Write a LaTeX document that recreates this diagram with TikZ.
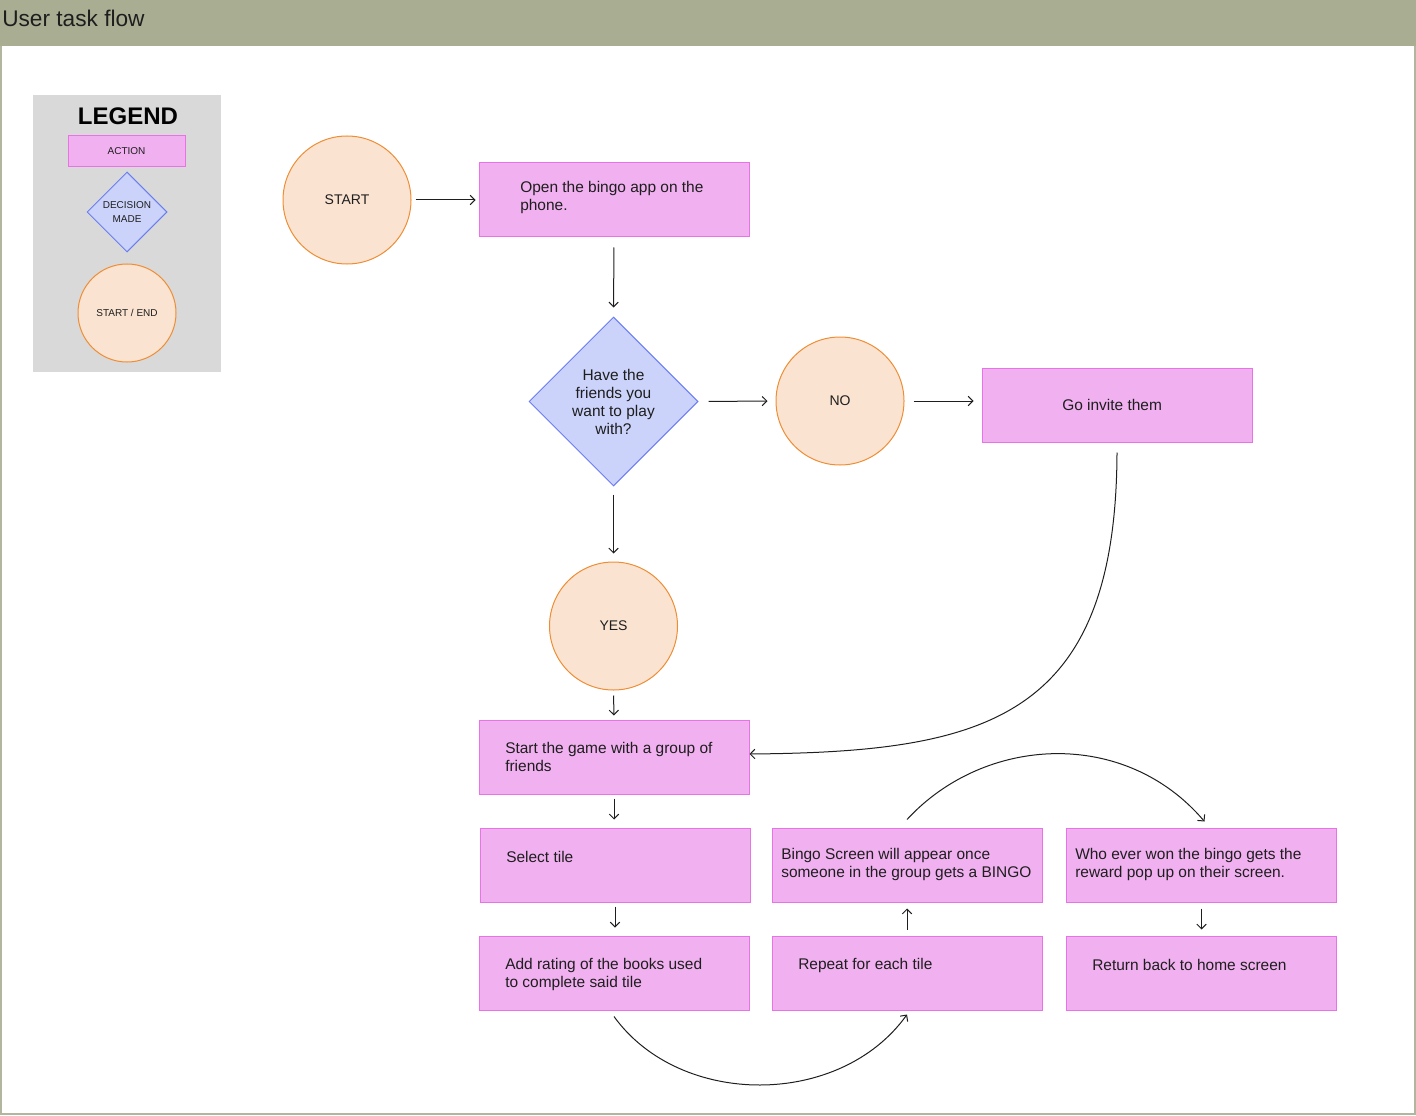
\documentclass[tikz,border=0pt]{standalone}
\usepackage{fontspec}
\setmainfont{Liberation Sans}
\usetikzlibrary{shapes.geometric,arrows.meta}
\definecolor{olive}{HTML}{A9AE92}
\definecolor{framec}{HTML}{B3B69E}
\definecolor{actfill}{HTML}{F1B1F0}
\definecolor{actdraw}{HTML}{E873E6}
\definecolor{decfill}{HTML}{CCD3FB}
\definecolor{decdraw}{HTML}{6A7DF2}
\definecolor{sefill}{HTML}{FBE3D1}
\definecolor{sedraw}{HTML}{EE8D34}
\definecolor{legc}{HTML}{D9D9D9}
\definecolor{ink}{HTML}{1E1E1E}
\begin{document}
\begin{tikzpicture}[x=0.75pt,y=-0.75pt,
  actbox/.style={rectangle, draw=actdraw, fill=actfill, line width=0.75pt, minimum width=202.5pt, minimum height=55.5pt, inner sep=0pt},
  decbox/.style={diamond, draw=decdraw, fill=decfill, line width=0.75pt, inner sep=0pt, align=center, text=ink},
  sebox/.style={circle, draw=sedraw, fill=sefill, line width=0.75pt, inner sep=0pt, text=ink},
  txt/.style={font=\fontsize{11.6pt}{13.5pt}\selectfont, text=ink, align=left, inner sep=0pt, anchor=west},
  arr/.style={-{Straight Barb[length=3.5pt,width=7pt]}, line width=0.75pt, draw=ink},
  main/.style={font=\fontsize{10.5pt}{13.5pt}\selectfont}
]
\useasboundingbox (0,0) rectangle (1416,1116);
% header and frame
\fill[olive] (0,0) rectangle (1416,46);
\draw[framec, line width=1.5pt] (1,46) -- (1,1114) -- (1415,1114) -- (1415,46);
\node[anchor=base west, inner sep=0pt, text=ink, font=\fontsize{17pt}{20pt}\selectfont] (title) at (2,27) {User task flow};

% legend
\fill[legc] (33,95) rectangle (221,372);
\node[font=\bfseries\fontsize{18pt}{20pt}\selectfont, text=black, inner sep=0pt] (legt) at (128,116) {LEGEND};
\node[actbox, minimum width=87.75pt, minimum height=23.25pt, font=\fontsize{7.5pt}{9pt}\selectfont, text=ink] (legact) at (126.5,151.5) {ACTION};
\node[decbox, minimum width=60pt, minimum height=60pt, font=\fontsize{7.5pt}{10pt}\selectfont] (legdec) at (127,212) {DECISION\\MADE};
\node[sebox, minimum size=73.5pt, font=\fontsize{7.5pt}{9pt}\selectfont] (legse) at (127,313) {START / END};

% main flow
\node[sebox, minimum size=96pt, main] (start) at (347,200) {START};
\node[actbox] (b1) at (614,200) {};
\node[txt] (b1t) at (520,198) {Open the bingo app on the\\phone.};
\node[decbox, minimum width=126.75pt, minimum height=126.75pt, font=\fontsize{11.6pt}{13.5pt}\selectfont] (dec) at (613.5,401.5) {Have the\\friends you\\want to play\\with?};
\node[sebox, minimum size=96pt, main] (no) at (840,401) {NO};
\node[actbox] (go) at (1117,405) {};
\node[txt] (got) at (1062,405) {Go invite them};
\node[sebox, minimum size=96pt, main] (yes) at (613.5,626) {YES};
\node[actbox] (sg) at (614,757) {};
\node[txt] (sgt) at (505,757) {Start the game with a group of\\friends};
\node[actbox] (sel) at (615,865) {};
\node[txt] (selt) at (506,857) {Select tile};
\node[actbox] (add) at (614,973) {};
\node[txt] (addt) at (505,974) {Add rating of the books used\\to complete said tile};
\node[actbox] (rep) at (907,973) {};
\node[txt] (rept) at (798,965) {Repeat for each tile};
\node[actbox] (ret) at (1201.5,973) {};
\node[txt] (rett) at (1092,965) {Return back to home screen};
\node[actbox] (bingo) at (907,865) {};
\node[txt] (bingot) at (781,864.5) {Bingo Screen will appear once\\someone in the group gets a BINGO};
\node[actbox] (who) at (1201.5,865) {};
\node[txt] (whot) at (1075,864.5) {Who ever won the bingo gets the\\reward pop up on their screen.};

% connectors
\draw[arr, shorten <=3pt, shorten >=2.25pt] (start) -- (b1);
\draw[arr, shorten <=7.5pt, shorten >=6.75pt] (b1.south) -- (dec.north);
\draw[arr, shorten <=7.5pt, shorten >=6pt] (dec.east) -- (no.west);
\draw[arr, shorten <=6.75pt, shorten >=6pt] (no.east) -- (go.west |- no.east);
\draw[arr, shorten <=6pt, shorten >=6pt] (dec.south) -- (yes.north);
\draw[arr, shorten <=3.75pt, shorten >=3pt] (yes.south) -- (sg.north);
\draw[arr, shorten <=3pt, shorten >=6pt] (sg.south) -- (sg.south |- sel.north);
\draw[arr, shorten <=3pt, shorten >=6pt] (sel.south) -- (sel.south |- add.north);
\draw[arr, shorten <=4.5pt, shorten >=4.5pt] (rep.north) -- (bingo.south);
\draw[arr, shorten <=4.5pt, shorten >=4.5pt] (who.south) -- (ret.north);
\draw[arr] ([yshift=-7.5pt]go.south) .. controls (1116,720) and (985,752) .. ([yshift=2.25pt]sg.east);
\draw[arr] ([yshift=-4.5pt]add.south) .. controls (680,1108) and (840,1108) .. ([yshift=-3pt]rep.south);
\draw[arr] ([yshift=6pt]bingo.north) .. controls (985,735) and (1125,728) .. ([xshift=2.25pt,yshift=4.5pt]who.north);
\end{tikzpicture}
\end{document}
